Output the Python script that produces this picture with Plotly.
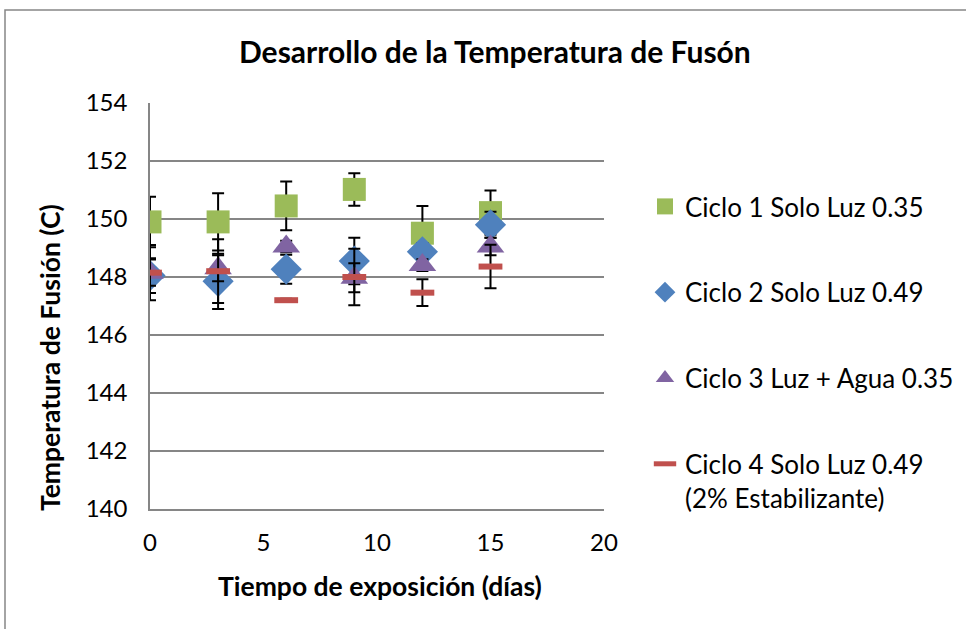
import plotly.graph_objects as go

days = [0, 3, 6, 9, 12, 15]

names = [
    "Ciclo 1 Solo Luz 0.35",
    "Ciclo 2 Solo Luz 0.49",
    "Ciclo 3 Luz + Agua 0.35",
    "Ciclo 4 Solo Luz 0.49<br>(2% Estabilizante)",
]
c1 = [149.9, 149.9, 150.45, 151.02, 149.51, 150.22]
c1_err = [0.87, 0.99, 0.84, 0.56, 0.94, 0.76]
c2 = [148.05, 147.85, 148.27, 148.55, 148.87, 149.8]
c2_err = [0.6, 0.95, 0.5, 0.8, 0.3, 0.45]
c3 = [148.15, 148.3, 149.05, 147.97, 148.41, 149.05]
c3_err = [0.45, 0.45, 0.2, 0.5, 0.2, 0.3]
c4 = [148.15, 148.2, 147.2, 148.0, 147.46, 148.36]
c4_err = [0.95, 1.1, 0.05, 0.97, 0.46, 0.75]

title_text = "Desarrollo de la Temperatura de Fusón"
x_title = "Tiempo de exposición (días)"
y_title = "Temperatura de Fusión (C)"

colors = ["#9BBB59", "#4F81BD", "#8064A2", "#C0504D"]
FONT = "Lato"

fig = go.Figure()
series = [(c1, c1_err), (c2, c2_err), (c3, c3_err), (c4, c4_err)]
marker_styles = [
    dict(symbol="square", size=23),
    dict(symbol="diamond", size=24),
    dict(symbol="triangle-up", size=24),
    dict(symbol="line-ew", size=17),
]
for i, ((vals, err), ms) in enumerate(zip(series, marker_styles)):
    m = dict(color=colors[i], **ms)
    if ms["symbol"] == "line-ew":
        m["line"] = dict(width=6, color=colors[i])
    fig.add_trace(go.Scatter(
        x=days, y=vals, mode="markers", name=names[i],
        legendgroup=f"g{i}",
        marker=m,
        error_y=dict(type="data", array=err, visible=True, color="black",
                     thickness=2, width=6),
    ))

W, H = 966, 629
L, R, T, B = 150, 362, 103, 120
pw, ph = W - L - R, H - T - B


def px_x(p):
    return (p - L) / pw


def px_y(p):
    return 1 - (p - T) / ph


fig.update_layout(
    width=W, height=H,
    margin=dict(l=L, r=R, t=T, b=B, autoexpand=False),
    paper_bgcolor="white", plot_bgcolor="white",
    font=dict(family=FONT, size=20, color="black"),
    xaxis=dict(range=[0, 20], tickvals=[0, 5, 10, 15, 20], showgrid=False,
               showline=True, linecolor="#868686", linewidth=1.5,
               zeroline=False, ticks="", tickfont=dict(size=24),
               ticklabelstandoff=11),
    yaxis=dict(range=[140, 154], tickvals=[140, 142, 144, 146, 148, 150, 152, 154],
               showgrid=True, gridcolor="#868686", gridwidth=1.5,
               showline=True, linecolor="#868686", linewidth=1.5,
               zeroline=False, ticks="", tickfont=dict(size=24),
               ticklabelstandoff=16),
    legend=dict(x=px_x(645), xanchor="left", y=px_y(183), yanchor="top",
                font=dict(size=26), tracegroupgap=49, valign="top",
                itemwidth=30, bgcolor="rgba(0,0,0,0)"),
    annotations=[
        dict(text=f"<b>{title_text}</b>", xref="paper", yref="paper",
             x=px_x(495), y=px_y(51), xanchor="center", yanchor="middle",
             showarrow=False, font=dict(size=30)),
        dict(text=f"<b>{x_title}</b>", xref="paper", yref="paper",
             x=px_x(380), y=px_y(586), xanchor="center", yanchor="middle",
             showarrow=False, font=dict(size=26.5)),
        dict(text=f"<b>{y_title}</b>", xref="paper", yref="paper",
             x=px_x(50), y=px_y(358), xanchor="center", yanchor="middle",
             showarrow=False, textangle=-90, font=dict(size=26.5)),
    ],
    shapes=[dict(type="rect", xref="paper", yref="paper",
                 x0=px_x(5), x1=px_x(990), y0=px_y(660), y1=px_y(10),
                 line=dict(color="#868686", width=1.5), fillcolor="rgba(0,0,0,0)")],
)

fig.write_html("out.html")
